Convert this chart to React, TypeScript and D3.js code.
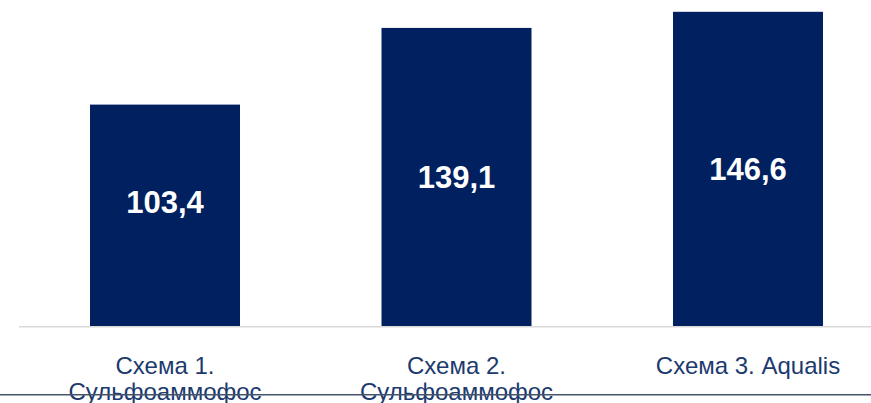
import React from "react";
import * as d3 from "d3";

const categories: string[][] = [
  ["Схема 1.", "Сульфоаммофос"],
  ["Схема 2.", "Сульфоаммофос"],
  ["Схема 3. Aqualis"],
];
const values: number[] = [103.4, 139.1, 146.6];
const valueLabels: string[] = ["103,4", "139,1", "146,6"];

const W = 871;
const H = 403;
const BAR = "#002060";
const TEXT = "#1c3a6e";

export default function App() {
  const x = d3
    .scaleBand<number>()
    .domain(values.map((_, i) => i))
    .range([19, 894])
    .paddingInner(0.4854)
    .paddingOuter(0.2436);
  const y = d3.scaleLinear().domain([0, 150]).range([326.7, 4.5]);
  const baseY = y(0);

  return (
    <svg
      width={W}
      height={H}
      style={{ position: "absolute", left: 0, top: 0, display: "block" }}
      fontFamily="'Liberation Sans', Arial, sans-serif"
    >
      <rect x={0} y={0} width={W} height={H} fill="#ffffff" />
      {values.map((v, i) => (
        <rect
          key={"b" + i}
          x={x(i)!}
          y={y(v)}
          width={x.bandwidth()}
          height={baseY - y(v)}
          fill={BAR}
        />
      ))}
      <line x1={x.range()[0]} x2={x.range()[1]} y1={baseY} y2={baseY} stroke="#d9d9d9" strokeWidth={1.5} />
      {values.map((v, i) => {
        const mid = (y(v) + baseY) / 2 - (i === 0 ? 13.5 : 0);
        return (
          <text
            key={"v" + i}
            x={x(i)! + x.bandwidth() / 2}
            y={mid}
            dy="0.36em"
            textAnchor="middle"
            fill="#ffffff"
            fontWeight="bold"
            fontSize={31}
          >
            {valueLabels[i]}
          </text>
        );
      })}
      {categories.map((lines, i) => (
        <text
          key={"c" + i}
          x={x(i)! + x.bandwidth() / 2}
          y={374.3}
          textAnchor="middle"
          fill={TEXT}
          fontSize={24}
        >
          {lines.map((l, j) => (
            <tspan key={j} x={x(i)! + x.bandwidth() / 2} dy={j === 0 ? 0 : 26}>
              {l}
            </tspan>
          ))}
        </text>
      ))}
      <line x1={0} x2={W} y1={394.8} y2={394.8} stroke="#44546a" strokeWidth={1.4} />
    </svg>
  );
}
